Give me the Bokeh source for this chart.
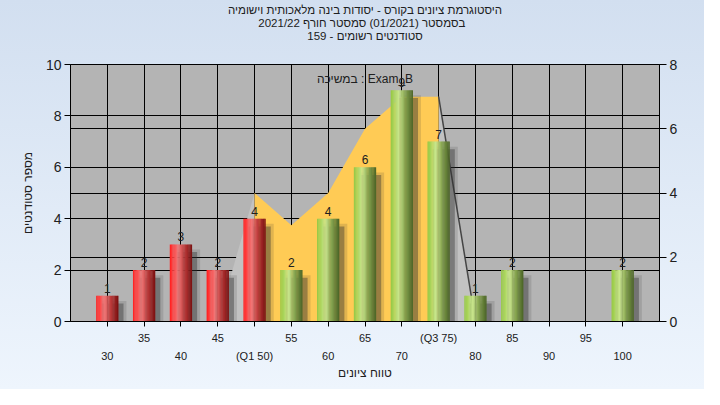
from bokeh.plotting import figure
from bokeh.layouts import column
from bokeh.models import Range1d, LinearAxis, FixedTicker, Grid, Label
from bokeh.core.properties import value
from bokeh.embed import file_html
from bokeh.resources import INLINE

# ---------------- data ----------------
categories = [30, 35, 40, 45, 50, 55, 60, 65, 70, 75, 80, 85, 90, 95, 100]
counts = [1, 2, 3, 2, 4, 2, 4, 6, 9, 7, 1, 2, 0, 0, 2]
q1 = 50
q3 = 75
upper_tick_labels = {35: "35", 45: "45", 55: "55", 65: "65", 75: "(Q3 75)", 85: "85", 95: "95"}
lower_tick_labels = {30: "30", 40: "40", 50: "(Q1 50)", 60: "60", 70: "70", 80: "80", 90: "90", 100: "100"}
curve_x = [45, 50, 55, 60, 65, 70, 75, 80]
curve_y = [0, 4, 3, 4, 6, 7, 7, 0]
left_ticks = [0, 2, 4, 6, 8, 10]
right_ticks = [0, 2, 4, 6, 8]
title_lines = [
    "היסטוגרמת ציונים בקורס - יסודות בינה מלאכותית וישומיה",
    "בסמסטר  (01/2021)  סמסטר חורף 2021/22",
    "סטודנטים רשומים - 159",
]
series_name = "במשיכה : Exam_B"
x_title = "טווח ציונים"
y_title = "מספר סטודנטים"

FONT = "Liberation Sans"
TXT = "#202020"
W = 704
TITLE_H = 56
MAIN_H = 389 - TITLE_H

red_stops = [(0.0, (255, 30, 30)), (0.12, (255, 60, 60)), (0.38, (240, 120, 120)),
             (0.65, (190, 60, 60)), (1.0, (122, 16, 16))]
green_stops = [(0.0, (150, 200, 70)), (0.12, (165, 210, 85)), (0.38, (202, 230, 142)),
               (0.65, (135, 165, 80)), (1.0, (74, 100, 38))]


def lerp(stops, t):
    for (t0, c0), (t1, c1) in zip(stops[:-1], stops[1:]):
        if t0 <= t <= t1:
            f = (t - t0) / (t1 - t0)
            r, g, b = (round(a + (b_ - a) * f) for a, b_ in zip(c0, c1))
            return "#%02x%02x%02x" % (r, g, b)
    return "#%02x%02x%02x" % stops[-1][1]


# ---------------- title strip ----------------
tf = figure(width=W, height=TITLE_H, x_range=Range1d(0, W), y_range=Range1d(0, TITLE_H),
            output_backend="svg", toolbar_location=None, x_axis_type=None, y_axis_type=None,
            min_border=0, min_border_left=0, min_border_right=0, min_border_top=0,
            min_border_bottom=0)
tf.grid.visible = False
tf.outline_line_color = None
tf.background_fill_color = None
tf.border_fill_color = None
tf.text(x=[352, 352, 352], y=[TITLE_H - 9, TITLE_H - 22, TITLE_H - 35], text=title_lines,
        text_align="center", text_baseline="middle", text_font=value(FONT),
        text_font_size="11.5px", text_color=TXT)

# ---------------- main chart ----------------
X0, X1, Y0, Y1 = 25, 105, 0, 10
p = figure(width=W, height=MAIN_H, x_range=Range1d(X0, X1), y_range=Range1d(Y0, Y1),
           output_backend="svg", toolbar_location=None, title=None,
           min_border_left=70, min_border_right=45, min_border_top=64 - TITLE_H,
           min_border_bottom=68)
p.background_fill_color = "#b4b4b4"
p.border_fill_color = None
p.outline_line_color = "black"
p.outline_line_width = 1

p.extra_y_ranges = {"right": Range1d(0, 8)}

# grids
p.xgrid.ticker = FixedTicker(ticks=categories)
p.ygrid.ticker = FixedTicker(ticks=left_ticks)
for g in (p.xgrid[0], p.ygrid[0]):
    g.grid_line_color = "black"
    g.grid_line_width = 1
rgrid = Grid(dimension=1, ticker=FixedTicker(ticks=right_ticks), y_range_name="right",
             grid_line_color="black", grid_line_width=1)
p.add_layout(rgrid)

# curve areas (right axis)
in_x = [x for x in curve_x if q1 <= x <= q3]
in_y = [y for x, y in zip(curve_x, curve_y) if q1 <= x <= q3]
lo_x = [x for x in curve_x if x <= q1]
lo_y = [y for x, y in zip(curve_x, curve_y) if x <= q1]
hi_x = [x for x in curve_x if x >= q3]
hi_y = [y for x, y in zip(curve_x, curve_y) if x >= q3]
p.varea(x=lo_x, y1=0, y2=lo_y, fill_color="#c2c2c2", y_range_name="right")
p.varea(x=hi_x, y1=0, y2=hi_y, fill_color="#c2c2c2", y_range_name="right")
p.varea(x=in_x, y1=0, y2=in_y, fill_color="#ffcb55", y_range_name="right")
p.line(x=hi_x, y=hi_y, line_color="#454545", line_width=1.5, y_range_name="right")

# bars: shadow
bar_w = 3.0
nz = [(c, v) for c, v in zip(categories, counts) if v > 0]
p.vbar(x=[c + 0.95 for c, v in nz], top=[v - 0.2 for c, v in nz], width=bar_w + 0.3,
       fill_color="#303030", fill_alpha=0.15, line_color=None)
p.vbar(x=[c + 0.7 for c, v in nz], top=[v - 0.3 for c, v in nz], width=bar_w,
       fill_color="#303030", fill_alpha=0.4, line_color=None)

# bars: gradient strips
N = 18
sx, stop, scol = [], [], []
for c, v in nz:
    stops = red_stops if c <= q1 else green_stops
    for i in range(N):
        t = (i + 0.5) / N
        sx.append(c - bar_w / 2 + t * bar_w)
        stop.append(v)
        scol.append(lerp(stops, t))
p.vbar(x=sx, top=stop, bottom=0, width=bar_w / N * 1.2, fill_color=scol, line_color=None)

# value labels
p.text(x=[c for c, v in nz], y=[v for c, v in nz], text=[str(v) for c, v in nz],
       text_align="center", text_baseline="bottom", y_offset=-3,
       text_font=value(FONT), text_font_size="12px", text_color=TXT)

p.add_layout(Label(x=65, y=9.45, text=series_name, text_align="center", text_baseline="middle",
                   text_font=FONT, text_font_size="12px", text_color=TXT))

# axes
xa = p.xaxis[0]
xa.ticker = FixedTicker(ticks=categories)
xa.major_label_overrides = {c: upper_tick_labels.get(c, "") for c in categories}
xa.major_tick_out = 5
xa.major_tick_in = 0
xa.minor_tick_line_color = None
xa.major_label_standoff = 5
xa.axis_line_color = "black"
xa.major_tick_line_color = "black"

xa2 = LinearAxis(ticker=FixedTicker(ticks=list(lower_tick_labels.keys())),
                 major_label_overrides=lower_tick_labels,
                 axis_line_color=None, major_tick_line_color=None, minor_tick_line_color=None,
                 major_tick_out=0, major_tick_in=0, major_label_standoff=3,
                 axis_label=x_title, axis_label_standoff=1)
p.add_layout(xa2, "below")

ya = p.yaxis[0]
ya.ticker = FixedTicker(ticks=left_ticks)
ya.major_tick_out = 6
ya.major_tick_in = 0
ya.minor_tick_line_color = None
ya.major_label_standoff = 3
ya.axis_label = y_title
ya.axis_label_standoff = 8

ra = LinearAxis(y_range_name="right", ticker=FixedTicker(ticks=right_ticks),
                major_tick_out=7, major_tick_in=0, minor_tick_line_color=None,
                major_label_standoff=3)
p.add_layout(ra, "right")

for ax in (xa, xa2, ya, ra):
    ax.major_label_text_font = FONT
    ax.major_label_text_color = TXT
    ax.axis_label_text_font = FONT
    ax.axis_label_text_font_style = "normal"
    ax.axis_label_text_font_size = "12px"
    ax.axis_label_text_color = TXT
for ax in (xa, xa2):
    ax.major_label_text_font_size = "11px"
for ax in (ya, ra):
    ax.major_label_text_font_size = "14px"

layout = column(tf, p, spacing=0, styles={"background": "linear-gradient(#d2dff0, #eef5fd)"})
open("out.html", "w").write(file_html(layout, INLINE))
